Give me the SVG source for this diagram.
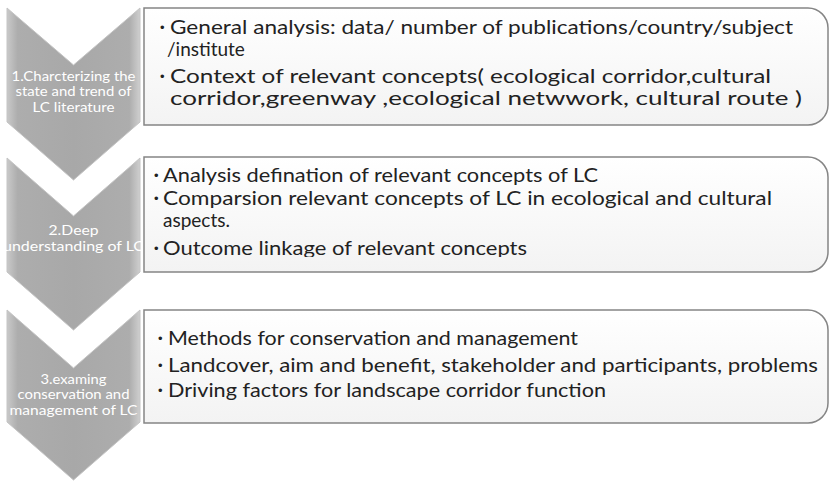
<svg xmlns="http://www.w3.org/2000/svg" width="831" height="482" viewBox="0 0 831 482">
<defs>
<linearGradient id="chev" x1="0" y1="0" x2="1" y2="0">
<stop offset="0" stop-color="#c9c9c9"/>
<stop offset="0.08" stop-color="#adadad"/>
<stop offset="0.5" stop-color="#a8a8a8"/>
<stop offset="0.92" stop-color="#adadad"/>
<stop offset="1" stop-color="#cfcfcf"/>
</linearGradient>
<linearGradient id="boxg" x1="0" y1="0" x2="0" y2="1">
<stop offset="0" stop-color="#ffffff"/>
<stop offset="1" stop-color="#f3f3f3"/>
</linearGradient>
<clipPath id="clip2"><rect x="144" y="157" width="684" height="100"/></clipPath>
</defs>
<style>
.chev{fill:url(#chev);stroke:#c4c4c4;stroke-width:1}
.box{fill:url(#boxg);stroke:#858585;stroke-width:1.5}
.ct{font-family:Lato,"Liberation Sans",sans-serif;font-size:13px;fill:#ffffff;text-anchor:middle}
.bt{font-family:Lato,"Liberation Sans",sans-serif;font-size:19px;fill:#222222}
.bul{font-family:"Liberation Sans",sans-serif;font-size:13px;fill:#222222}
</style>

<g id="step1">
<path class="chev" d="M7,8 L73.5,65 L140,8 L140,122 L73.5,180 L7,122 Z"/>
<text class="ct" x="73.5" y="81" textLength="124" lengthAdjust="spacingAndGlyphs">1.Charcterizing the</text>
<text class="ct" x="73.5" y="96" textLength="116" lengthAdjust="spacingAndGlyphs">state and trend of</text>
<text class="ct" x="73.5" y="112" textLength="82" lengthAdjust="spacingAndGlyphs">LC literature</text>
</g>

<g id="step2">
<path class="chev" d="M7,158 L73.5,216 L140,158 L140,272 L73.5,330 L7,272 Z"/>
<text class="ct" x="73.5" y="235" textLength="50" lengthAdjust="spacingAndGlyphs">2.Deep</text>
<text class="ct" x="73.5" y="251" textLength="141" lengthAdjust="spacingAndGlyphs">understanding of LC</text>
</g>

<g id="step3">
<path class="chev" d="M7,310 L73.5,368 L140,310 L140,422 L73.5,480 L7,422 Z"/>
<text class="ct" x="73.5" y="384" textLength="66" lengthAdjust="spacingAndGlyphs">3.examing</text>
<text class="ct" x="73.5" y="399" textLength="112" lengthAdjust="spacingAndGlyphs">conservation and</text>
<text class="ct" x="73.5" y="415" textLength="128" lengthAdjust="spacingAndGlyphs">management of LC</text>
</g>

<g id="box1">
<path class="box" d="M144,8 H808 A20,20 0 0 1 828,28 V105 A20,20 0 0 1 808,125 H144 Z"/>
<text class="bul" x="160" y="32">•</text>
<text class="bt" x="170" y="34" textLength="623" lengthAdjust="spacingAndGlyphs">General analysis: data/ number of publications/country/subject</text>
<text class="bt" x="167" y="56">/institute</text>
<text class="bul" x="160" y="81">•</text>
<text class="bt" x="170" y="83" textLength="601" lengthAdjust="spacingAndGlyphs">Context of relevant concepts( ecological corridor,cultural</text>
<text class="bt" x="170" y="105" textLength="632" lengthAdjust="spacingAndGlyphs">corridor,greenway ,ecological netwwork, cultural route )</text>
</g>

<g id="box2">
<path class="box" d="M144,157 H808 A20,20 0 0 1 828,177 V252 A20,20 0 0 1 808,272 H144 Z"/>
<text class="bul" x="154" y="180">•</text>
<text class="bt" x="163" y="182" textLength="435" lengthAdjust="spacingAndGlyphs">Analysis defination of relevant concepts of LC</text>
<text class="bul" x="154" y="203">•</text>
<text class="bt" x="163" y="205" textLength="609" lengthAdjust="spacingAndGlyphs">Comparsion relevant concepts of LC in ecological and cultural</text>
<text class="bt" x="163" y="227">aspects.</text>
<g clip-path="url(#clip2)">
<text class="bul" x="154" y="253">•</text>
<text class="bt" x="163" y="255" textLength="364" lengthAdjust="spacingAndGlyphs">Outcome linkage of relevant concepts</text>
</g>
</g>

<g id="box3">
<path class="box" d="M144,310 H808 A20,20 0 0 1 828,330 V403 A20,20 0 0 1 808,423 H144 Z"/>
<text class="bul" x="158" y="343">•</text>
<text class="bt" x="168" y="345" textLength="410" lengthAdjust="spacingAndGlyphs">Methods for conservation and  management</text>
<text class="bul" x="158" y="370">•</text>
<text class="bt" x="168" y="372" textLength="650" lengthAdjust="spacingAndGlyphs">Landcover, aim and benefit, stakeholder and participants, problems</text>
<text class="bul" x="158" y="395">•</text>
<text class="bt" x="168" y="397" textLength="438" lengthAdjust="spacingAndGlyphs">Driving factors for landscape corridor function</text>
</g>

<g id="connectors"></g>
</svg>
